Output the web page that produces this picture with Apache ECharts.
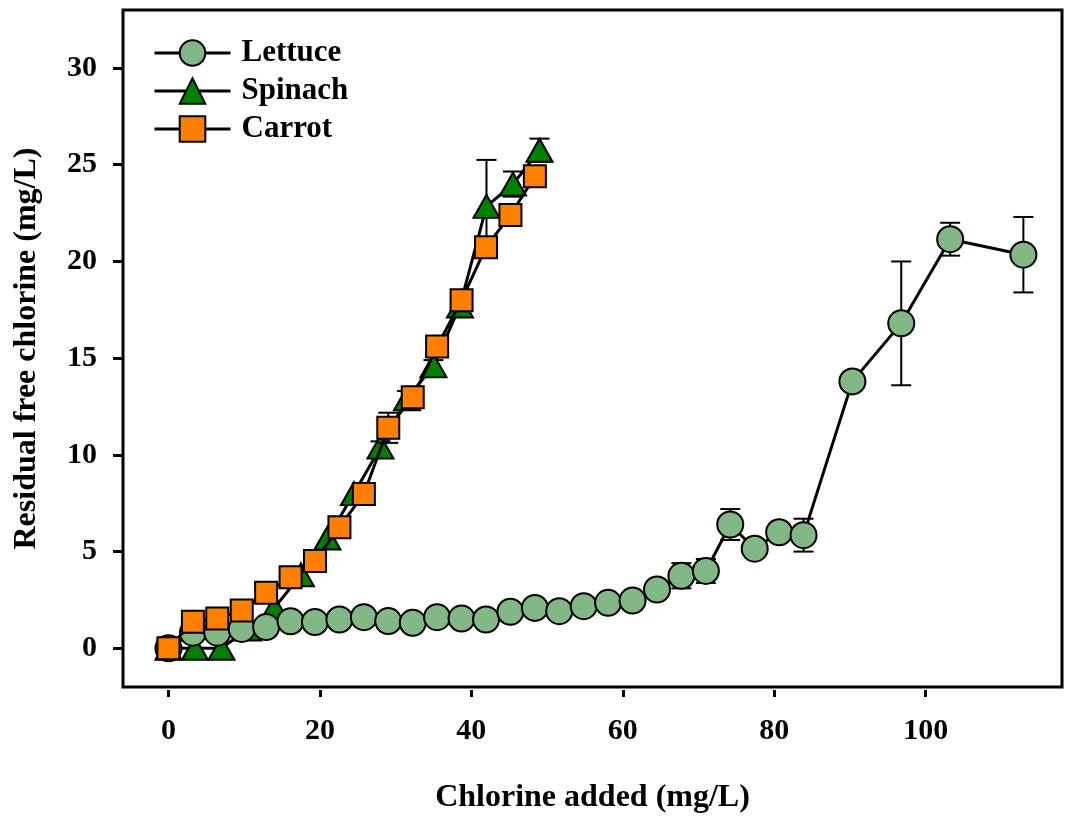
<!DOCTYPE html>
<html>
<head>
<meta charset="utf-8">
<script src="https://cdn.jsdelivr.net/npm/echarts@6/dist/echarts.min.js"></script>
<style>
  html, body { margin: 0; padding: 0; background: #fff; }
  #chart { width: 1065px; height: 822px; }
</style>
</head>
<body>
<div id="chart"></div>
<script>
const FONT = "Liberation Serif";
const X_TICKS = [0, 20, 40, 60, 80, 100];
const Y_TICKS = [0, 5, 10, 15, 20, 25, 30];

const lettuceX = [0, 3.23, 6.45, 9.68, 12.9, 16.13, 19.35, 22.58, 25.81, 29.03, 32.26, 35.48, 38.71, 41.94, 45.16, 48.39,
  51.61, 54.84, 58.06, 61.29, 64.52, 67.74, 70.97, 74.19, 77.42, 80.65, 83.87, 90.32, 96.77, 103.23, 112.9];
const lettuceY = [0, 0.81, 0.81, 1.0, 1.1, 1.4, 1.36, 1.49, 1.61, 1.41, 1.32, 1.61, 1.54, 1.49, 1.89, 2.09,
  1.92, 2.18, 2.35, 2.47, 3.04, 3.75, 4.0, 6.4, 5.15, 6.0, 5.85, 13.8, 16.8, 21.15, 20.35];
const lettuceErr = [0, 0, 0, 0, 0, 0, 0, 0, 0, 0, 0, 0, 0, 0, 0, 0,
  0, 0, 0, 0, 0, 0.65, 0.62, 0.8, 0, 0, 0.85, 0, 3.2, 0.85, 1.95];

const spinachX = [0, 3.5, 7, 10.5, 14, 17.5, 21, 24.5, 28, 31.5, 35, 38.5, 42, 45.5, 49];
const spinachY = [0, 0, 0, 1.0, 2.1, 3.8, 5.7, 8.0, 10.4, 12.9, 14.6, 17.7, 22.85, 24.0, 25.75];
const spinachErr = [0, 0, 0, 0, 0, 0, 0, 0, 0.3, 0.4, 0.3, 0.3, 2.4, 0.65, 0.6];

const carrotX = [0, 3.23, 6.45, 9.68, 12.9, 16.13, 19.35, 22.58, 25.81, 29.03, 32.26, 35.48, 38.71, 41.94, 45.16, 48.39];
const carrotY = [0, 1.37, 1.54, 1.96, 2.87, 3.67, 4.52, 6.26, 7.98, 11.4, 12.98, 15.6, 18.0, 20.74, 22.4, 24.4];
const carrotErr = [0, 0, 0, 0, 0, 0, 0, 0, 0, 0.78, 0.5, 0.5, 0.4, 0.3, 0.4, 0.4];

function toPoints(xs, ys) {
  return xs.map((x, i) => [x, ys[i]]);
}

function toErrors(xs, ys, errs) {
  return xs.map((x, i) => [x, ys[i], errs[i]]);
}

function errorSeries(name, data, z) {
  return {
    name,
    type: "custom",
    z,
    data,
    encode: { x: 0, y: 1 },
    silent: true,
    renderItem(params, api) {
      const x = api.value(0);
      const y = api.value(1);
      const e = api.value(2);

      if (!e) {
        return null;
      }

      const top = api.coord([x, y + e]);
      const bottom = api.coord([x, y - e]);
      const half = 10;
      const style = { stroke: "#000", lineWidth: 2 };

      return {
        type: "group",
        children: [
          { type: "line", shape: { x1: top[0], y1: top[1], x2: bottom[0], y2: bottom[1] }, style },
          { type: "line", shape: { x1: top[0] - half, y1: top[1], x2: top[0] + half, y2: top[1] }, style },
          { type: "line", shape: { x1: bottom[0] - half, y1: bottom[1], x2: bottom[0] + half, y2: bottom[1] }, style },
        ],
      };
    },
  };
}

function lineSeries(name, data, symbol, size, color, z) {
  return {
    name,
    type: "line",
    z,
    data,
    symbol,
    symbolSize: size,
    showAllSymbol: true,
    lineStyle: { color: "#000", width: 3 },
    itemStyle: { color, borderColor: "#000", borderWidth: 2 },
    emphasis: { disabled: true },
  };
}

const tickText = { fontFamily: FONT, fontWeight: "bold", color: "#000", fontSize: 30 };
const titleText = { fontFamily: FONT, fontWeight: "bold", color: "#000", fontSize: 32 };

const chart = echarts.init(document.getElementById("chart"));

chart.setOption({
  animation: false,
  backgroundColor: "#fff",
  grid: {
    left: 123, right: 3, top: 10, bottom: 135,
    show: true, borderColor: "#000", borderWidth: 3, backgroundColor: "transparent",
  },
  legend: {
    data: ["Lettuce", "Spinach", "Carrot"],
    orient: "vertical",
    left: 148,
    top: 32,
    itemWidth: 76,
    itemHeight: 32,
    itemGap: 6,
    lineStyle: { width: 3, color: "#000" },
    itemStyle: { borderWidth: 2, borderColor: "#000" },
    textStyle: { fontFamily: FONT, fontWeight: "bold", color: "#000", fontSize: 31, lineHeight: 32, padding: [0, 0, 0, 6] },
  },
  xAxis: {
    type: "value",
    min: -6,
    max: 118,
    offset: 3,
    axisLine: { show: false, onZero: false },
    splitLine: { show: false },
    axisTick: { show: true, length: 7, customValues: X_TICKS, lineStyle: { color: "#000", width: 3 } },
    axisLabel: Object.assign({ customValues: X_TICKS, margin: 26 }, tickText),
    name: "Chlorine added (mg/L)",
    nameLocation: "middle",
    nameGap: 92,
    nameTextStyle: titleText,
  },
  yAxis: {
    type: "value",
    min: -2,
    max: 33,
    axisLine: { show: false, onZero: false },
    splitLine: { show: false },
    axisTick: { show: true, length: 10, customValues: Y_TICKS, lineStyle: { color: "#000", width: 3 } },
    axisLabel: Object.assign({ customValues: Y_TICKS, margin: 26 }, tickText),
    name: "Residual free chlorine (mg/L)",
    nameLocation: "middle",
    nameGap: 80,
    nameRotate: 90,
    nameTextStyle: titleText,
  },
  series: [
    errorSeries("spinachErr", toErrors(spinachX, spinachY, spinachErr), 2),
    lineSeries("Spinach", toPoints(spinachX, spinachY), "triangle", [26, 23], "#008000", 3),
    errorSeries("lettuceErr", toErrors(lettuceX, lettuceY, lettuceErr), 4),
    lineSeries("Lettuce", toPoints(lettuceX, lettuceY), "circle", 26, "#82b886", 5),
    errorSeries("carrotErr", toErrors(carrotX, carrotY, carrotErr), 6),
    lineSeries("Carrot", toPoints(carrotX, carrotY), "rect", 22, "#ff8000", 7),
  ],
});
</script>
</body>
</html>
